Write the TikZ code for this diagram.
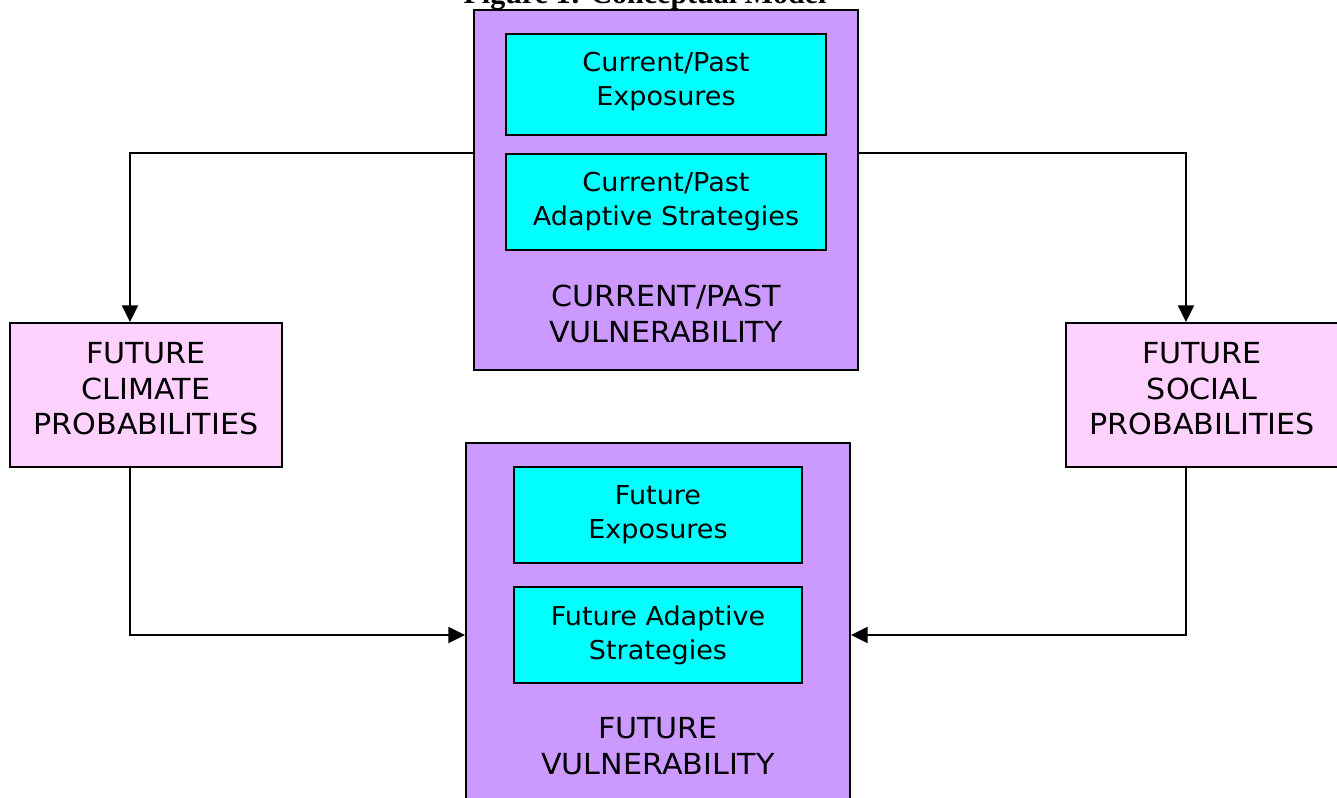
\documentclass[tikz,border=0pt]{standalone}
\usepackage{fontspec}
\setmainfont[FakeStretch=1.04]{DejaVu Sans}
\newfontfamily\titlefont{Liberation Serif}
\usetikzlibrary{arrows.meta}
\definecolor{purp}{HTML}{CC99FF}
\definecolor{cyanb}{HTML}{00FFFF}
\definecolor{pinkb}{HTML}{FFD1FF}
\tikzset{
  box/.style args={#1/#2}{draw=black, line width=1.5pt, inner sep=0pt,
    minimum width=#1*0.75pt, minimum height=#2*0.75pt},
  outerbox/.style={box=#1, fill=purp},
  innerbox/.style={box=#1, fill=cyanb},
  probbox/.style={box=#1, fill=pinkb},
  smalltxt/.style={align=center, inner sep=0pt, anchor=north,
    font=\fontsize{19.5}{25.5}\selectfont},
  bigtxt/.style={align=center, inner sep=0pt, anchor=north,
    font=\fontsize{21.75}{26.8}\selectfont},
  conn/.style={line width=1.4pt, -{Triangle[length=12.5pt,width=12pt]}}
}
\begin{document}
\begin{tikzpicture}[x=0.75pt, y=-0.75pt]
\useasboundingbox (0,0) rectangle (1337,798);
% title (cut off at the top)
\node[anchor=base, inner sep=0pt, font=\titlefont\bfseries\fontsize{22.5}{27}\selectfont] (title) at (645,4) {Figure 1: Conceptual Model};
% current/past vulnerability
\node[outerbox=384/360] (topv) at (666,190) {};
\node[innerbox=320/101] (c1) at (666,84.5) {};
\node[innerbox=320/96] (c2) at (666,202) {};
\node[smalltxt] (t1) at (666,52) {Current/Past\\Exposures};
\node[smalltxt] (t2) at (666,172) {Current/Past\\Adaptive Strategies};
\node[bigtxt] (tv1) at (666,285) {CURRENT/PAST\\VULNERABILITY};
% probabilities
\node[probbox=272/144] (lp) at (146,395) {};
\node[bigtxt] (tlp) at (146,342) {FUTURE\\CLIMATE\\PROBABILITIES};
\node[probbox=272/144] (rp) at (1202,395) {};
\node[bigtxt] (trp) at (1202,342) {FUTURE\\SOCIAL\\PROBABILITIES};
% future vulnerability
\node[outerbox=384/360] (botv) at (658,623) {};
\node[innerbox=288/96] (c3) at (658,515) {};
\node[innerbox=288/96] (c4) at (658,635) {};
\node[smalltxt] (t3) at (658,485) {Future\\Exposures};
\node[smalltxt] (t4) at (658,605) {Future Adaptive\\Strategies};
\node[bigtxt] (tv2) at (658,717) {FUTURE\\VULNERABILITY};
% connectors
\draw[conn] (topv.west |- c2.north) -| ([xshift=-12pt]lp.north);
\draw[conn] (topv.east |- c2.north) -| ([xshift=-12pt]rp.north);
\draw[conn] ([xshift=-12pt]lp.south) |- (botv.west |- c4.center);
\draw[conn] ([xshift=-12pt]rp.south) |- (botv.east |- c4.center);
\end{tikzpicture}
\end{document}
